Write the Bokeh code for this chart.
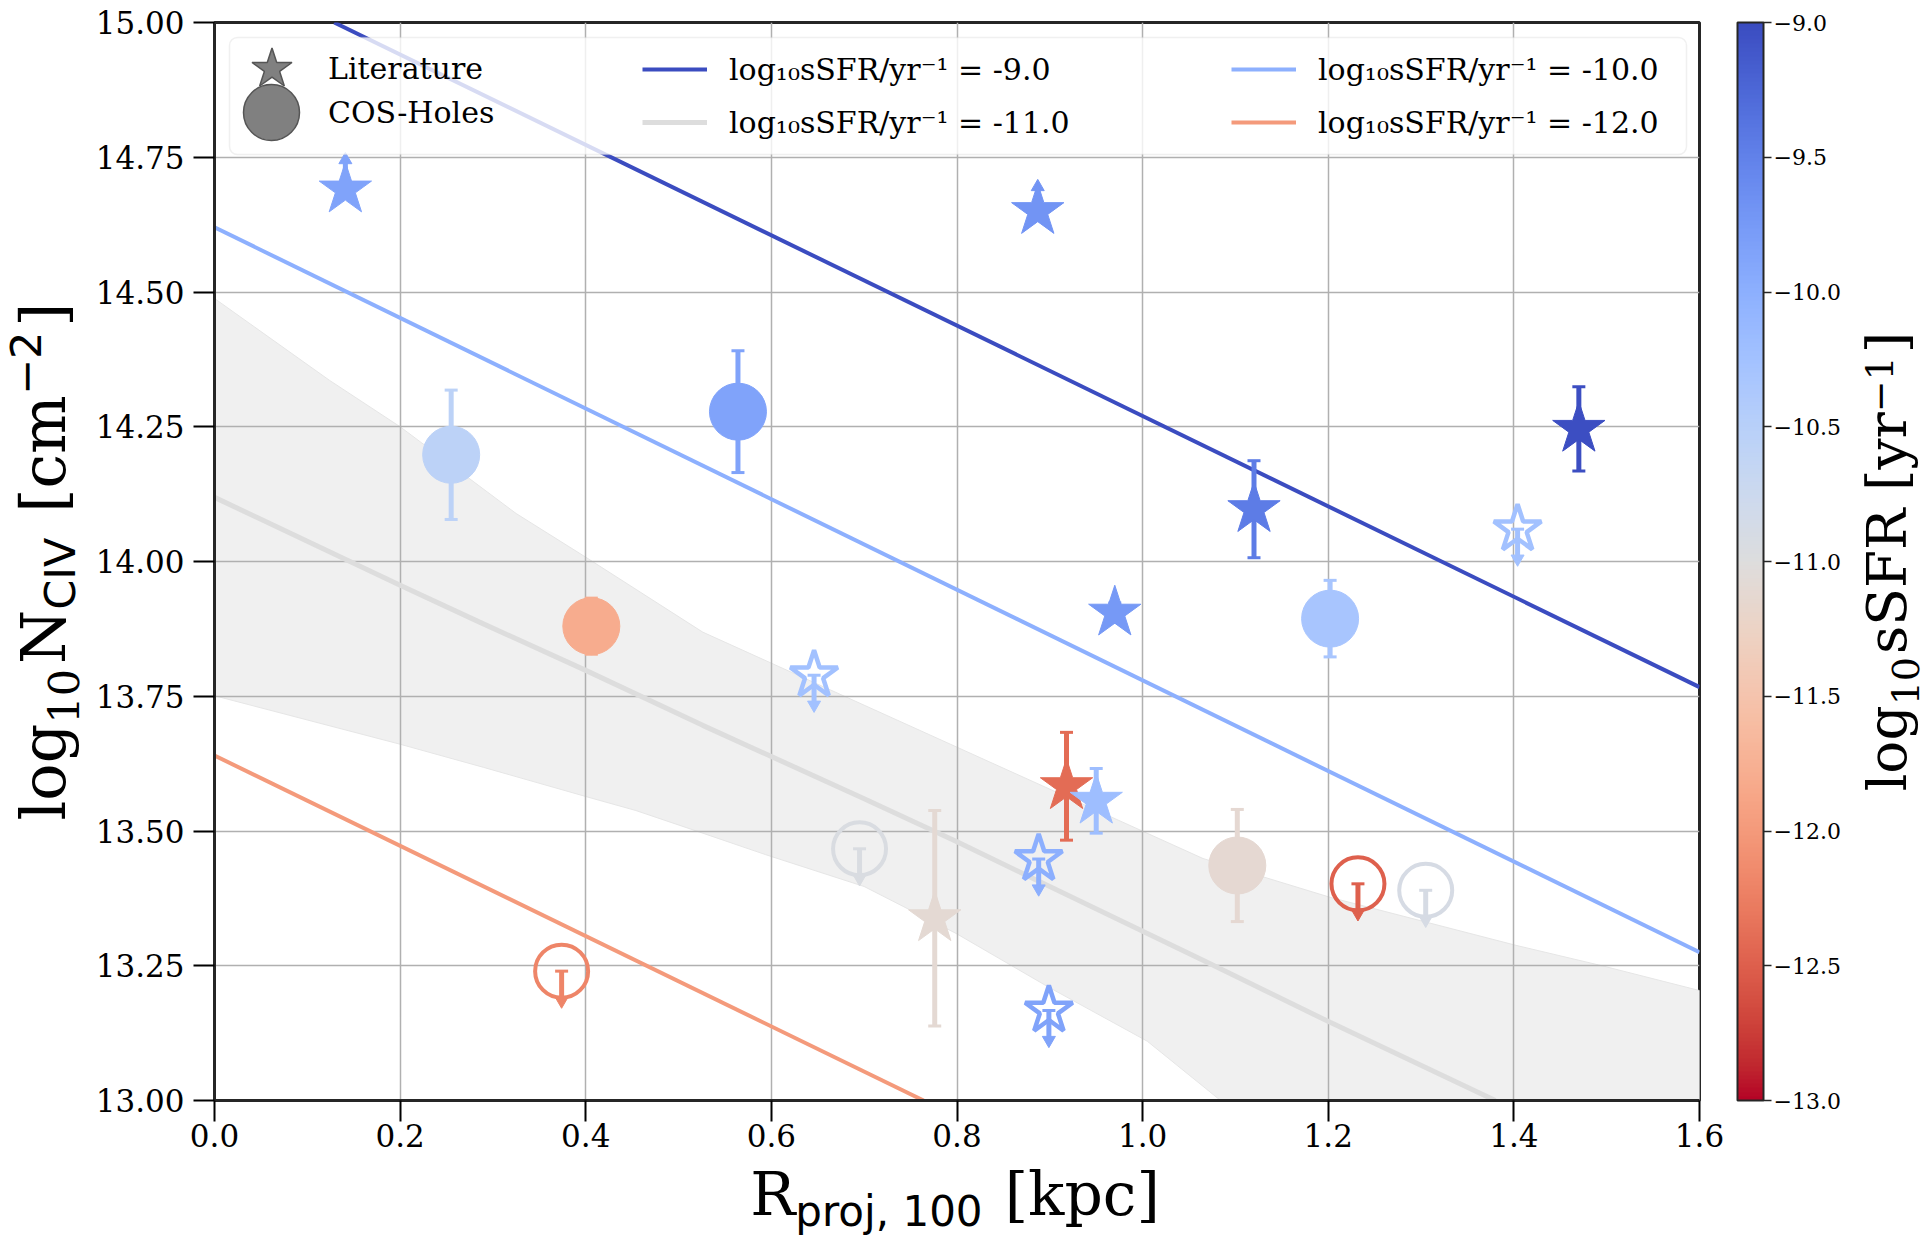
import glob
import numpy as np
from bokeh.plotting import figure
from bokeh.layouts import row, column
from bokeh.models import (ColumnDataSource, LinearColorMapper, ColorBar, FixedTicker,
                          NumeralTickFormatter, CustomJSTickFormatter, Legend, LegendItem,
                          Label, BoxAnnotation, Range1d)
from bokeh.transform import transform
from bokeh.embed import file_html
from bokeh.resources import INLINE

# ------------------------------------------------------------------ data
# Literature (stars)
lit_x = [0.141, 0.887, 1.470, 1.120, 0.970, 0.918, 0.950, 0.776, 0.646, 1.404, 0.888, 0.899]
lit_y = [14.690, 14.650, 14.246, 14.097, 13.905, 13.583, 13.556, 13.338, 13.789, 14.060, 13.448, 13.167]
lit_ssfr = [-9.85, -9.70, -9.03, -9.45, -9.75, -12.40, -10.20, -11.10, -10.25, -10.25, -10.00, -9.85]
lit_err = [0.055, 0.045, 0.078, 0.090, 0.018, 0.100, 0.060, 0.200, 0.055, 0.055, 0.055, 0.055]
lit_lim = ["lower", "lower", "none", "none", "none", "none", "none", "none",
           "upper", "upper", "upper", "upper"]

# COS-Holes (circles)
cos_x = [0.255, 0.564, 0.406, 1.202, 1.102, 0.374, 0.695, 1.232, 1.305]
cos_y = [14.198, 14.278, 13.880, 13.894, 13.436, 13.240, 13.467, 13.402, 13.390]
cos_ssfr = [-10.55, -9.85, -11.80, -10.30, -11.12, -12.20, -10.95, -12.50, -10.90]
cos_err = [0.120, 0.113, 0.052, 0.071, 0.104, 0.055, 0.055, 0.055, 0.055]
cos_lim = ["none", "none", "none", "none", "none", "upper", "upper", "upper", "upper"]

# model relations for fixed sSFR
model_ssfr = [-9.0, -10.0, -11.0, -12.0]
m9_x = [0.129, 1.6]
m9_y = [15.0, 13.767]
m10_x = [0.0, 1.6]
m10_y = [14.620, 13.275]
m11_x = [0.0, 0.2, 0.285, 0.4, 0.526, 0.7, 0.8, 1.065, 1.202, 1.38]
m11_y = [14.119, 13.956, 13.888, 13.798, 13.696, 13.560, 13.480, 13.260, 13.145, 13.0]
m12_x = [0.0, 0.764]
m12_y = [13.640, 13.0]

# scatter band around the -11 relation
band_up_x = [0.0, 0.124, 0.2, 0.325, 0.4, 0.526, 1.065, 1.202, 1.402, 1.495, 1.6]
band_up_y = [14.488, 14.336, 14.250, 14.089, 14.008, 13.869, 13.449, 13.377, 13.288, 13.250, 13.204]
band_lo_x = [0.0, 0.2, 0.29, 0.4, 0.454, 0.526, 0.594, 0.7, 0.799, 0.899, 1.005, 1.084, 1.6]
band_lo_y = [13.751, 13.661, 13.618, 13.564, 13.538, 13.496, 13.456, 13.397, 13.310, 13.210, 13.110, 13.0, 12.48]

x_ticks = [0.0, 0.2, 0.4, 0.6, 0.8, 1.0, 1.2, 1.4, 1.6]
y_ticks = [13.0, 13.25, 13.5, 13.75, 14.0, 14.25, 14.5, 14.75, 15.0]
cb_ticks = [-13.0, -12.5, -12.0, -11.5, -11.0, -10.5, -10.0, -9.5, -9.0]
SSFR_LOW, SSFR_HIGH = -13.0, -9.0

# ------------------------------------------------------------------ colormap (coolwarm, reversed)
COOLWARM = [(59, 76, 192), (68, 90, 204), (77, 104, 215), (87, 117, 225), (98, 130, 234),
            (108, 142, 241), (119, 154, 247), (130, 165, 251), (141, 176, 254), (152, 185, 255),
            (163, 194, 255), (174, 201, 253), (184, 208, 249), (194, 213, 244), (204, 217, 238),
            (213, 219, 230), (221, 221, 221), (229, 216, 209), (236, 211, 197), (241, 204, 185),
            (245, 196, 173), (247, 187, 160), (247, 177, 148), (247, 166, 135), (244, 154, 123),
            (241, 141, 111), (236, 127, 99), (229, 112, 88), (222, 96, 77), (213, 80, 66),
            (203, 62, 56), (192, 40, 47), (180, 4, 38)]
_cw = np.array(COOLWARM, dtype=float)
_kn = np.linspace(0, 1, len(COOLWARM))


def coolwarm(t):
    return "#%02x%02x%02x" % tuple(int(round(np.interp(t, _kn, _cw[:, k]))) for k in range(3))


palette = [coolwarm(1 - i / 255) for i in range(256)]
mapper = LinearColorMapper(palette=palette, low=SSFR_LOW, high=SSFR_HIGH)


def ssfr_color(v):
    return coolwarm(1 - (v - SSFR_LOW) / (SSFR_HIGH - SSFR_LOW))


# ------------------------------------------------------------------ text metrics
try:
    from PIL import ImageFont
except Exception:
    ImageFont = None
_FONT_FILES = {"DejaVu Serif": "DejaVuSerif.ttf", "DejaVu Sans": "DejaVuSans.ttf"}
_fcache = {}


def _font(fam, size):
    key = (fam, size)
    if key not in _fcache:
        f = None
        if ImageFont is not None:
            hits = (glob.glob("/usr/share/fonts/**/" + _FONT_FILES[fam], recursive=True) +
                    glob.glob("/usr/local/share/fonts/**/" + _FONT_FILES[fam], recursive=True))
            if hits:
                try:
                    f = ImageFont.truetype(hits[0], size)
                except Exception:
                    f = None
        _fcache[key] = f
    return _fcache[key]


def tw(text, fam, size):
    f = _font(fam, size)
    if f is not None:
        return f.getlength(text)
    return 0.6 * size * len(text)


BASE_K = 0.367   # anchor offset of the label baseline, as a fraction of the font size


def add_rich(fig, pieces, ax, ay, rotated=False):
    """pieces: (text, family, size_px, baseline shift, extra gap after)"""
    total = sum(tw(t, fam, s) + g for t, fam, s, d, g in pieces)
    pos = -total / 2
    for t, fam, s, d, g in pieces:
        body = t.lstrip(" ")
        lead = len(t) - len(body)
        if lead:
            pos += tw(" " * lead, fam, s)
        up = d + BASE_K * s
        if rotated:
            x, y = ax - up, ay + pos
        else:
            x, y = ax + pos, ay + up
        fig.add_layout(Label(x=x, y=y, x_units="screen", y_units="screen", text=body,
                             text_font=fam, text_font_size=f"{s}px", text_color="black",
                             text_align="left", text_baseline="alphabetic",
                             angle=(np.pi / 2 if rotated else 0.0)))
        pos += tw(body, fam, s) + g


def blank_fig(w, h, top=0, bottom=0):
    return figure(width=w, height=h, x_range=Range1d(0, 1), y_range=Range1d(0, 1),
                  x_axis_type=None, y_axis_type=None, toolbar_location=None,
                  output_backend="svg", min_border_left=0, min_border_right=0,
                  min_border_top=top, min_border_bottom=bottom, outline_line_color=None,
                  background_fill_color="white", border_fill_color="white")


# ------------------------------------------------------------------ geometry
FW, FH = 1485, 1078
TOP, BOT = 22, 60
YLAB_W, MAIN_L = 92, 120
MAIN_R, CBLAB_W = 152, 79
MAIN_H = TOP + FH + BOT
TOTAL_W = YLAB_W + MAIN_L + FW + MAIN_R + CBLAB_W
XLAB_H = 77
XLAB_BASE = 1216.0      # canvas y of the x-title baseline
CBLAB_BASE = 1905.0     # canvas x of the colour-bar title baseline

# ------------------------------------------------------------------ main figure
p = figure(frame_width=FW, frame_height=FH, x_range=Range1d(0, 1.6), y_range=Range1d(13, 15),
           output_backend="svg", toolbar_location=None,
           min_border_left=MAIN_L, min_border_right=MAIN_R, min_border_top=TOP,
           min_border_bottom=BOT,
           background_fill_color="white", border_fill_color="white",
           outline_line_color="#262626", outline_line_width=3)

p.xaxis.ticker = FixedTicker(ticks=x_ticks)
p.yaxis.ticker = FixedTicker(ticks=y_ticks)
p.xaxis.formatter = NumeralTickFormatter(format="0.0")
p.yaxis.formatter = NumeralTickFormatter(format="0.00")
for ax in (p.xaxis[0], p.yaxis[0]):
    ax.axis_label = None
    ax.major_label_text_font = "DejaVu Serif"
    ax.major_label_text_font_size = "31px"
    ax.major_label_text_color = "black"
    ax.major_tick_out = 21
    ax.major_tick_in = 0
    ax.major_tick_line_width = 2
    ax.major_tick_line_color = "black"
    ax.minor_tick_line_color = None
    ax.axis_line_color = "#262626"
    ax.axis_line_width = 3
p.xaxis.major_label_standoff = 2
p.yaxis.major_label_standoff = 9
p.grid.grid_line_color = "#b0b0b0"
p.grid.grid_line_width = 1.5

# band
band_xs = list(band_up_x) + list(band_lo_x[::-1])
band_ys = list(band_up_y) + list(band_lo_y[::-1])
p.patch(band_xs, band_ys, fill_color="#f0f0f0", line_color="#e6e6e6", line_width=1, level="image")

# model lines
r9 = p.line(m9_x, m9_y, line_color=ssfr_color(model_ssfr[0]), line_width=4)
r10 = p.line(m10_x, m10_y, line_color=ssfr_color(model_ssfr[1]), line_width=4)
r11 = p.line(m11_x, m11_y, line_color=ssfr_color(model_ssfr[2]), line_width=5)
r12 = p.line(m12_x, m12_y, line_color=ssfr_color(model_ssfr[3]), line_width=4)


# error bars / limits
def build(xs, ys, ss, es, lims):
    seg = dict(x=[], y0=[], y1=[], ssfr=[])
    caps = dict(x=[], y=[], ssfr=[])
    up = dict(x=[], y=[], ssfr=[])
    dn = dict(x=[], y=[], ssfr=[])
    for x, y, s, e, l in zip(xs, ys, ss, es, lims):
        if l == "none":
            seg["x"].append(x); seg["y0"].append(y - e); seg["y1"].append(y + e); seg["ssfr"].append(s)
            for yy in (y - e, y + e):
                caps["x"].append(x); caps["y"].append(yy); caps["ssfr"].append(s)
        elif l == "upper":
            seg["x"].append(x); seg["y0"].append(y - e); seg["y1"].append(y); seg["ssfr"].append(s)
            caps["x"].append(x); caps["y"].append(y); caps["ssfr"].append(s)
            dn["x"].append(x); dn["y"].append(y - e); dn["ssfr"].append(s)
        else:
            seg["x"].append(x); seg["y0"].append(y); seg["y1"].append(y + e); seg["ssfr"].append(s)
            caps["x"].append(x); caps["y"].append(y); caps["ssfr"].append(s)
            up["x"].append(x); up["y"].append(y + e); up["ssfr"].append(s)
    return seg, caps, up, dn


cmap_t = transform("ssfr", mapper)
for xs, ys, ss, es, lims in ((lit_x, lit_y, lit_ssfr, lit_err, lit_lim),
                             (cos_x, cos_y, cos_ssfr, cos_err, cos_lim)):
    seg, caps, up, dn = build(xs, ys, ss, es, lims)
    p.segment(x0="x", y0="y0", x1="x", y1="y1", source=ColumnDataSource(seg),
              line_color=cmap_t, line_width=5)
    p.scatter(x="x", y="y", source=ColumnDataSource(caps), marker="dash", size=13,
              line_color=cmap_t, line_width=3)
    p.scatter(x="x", y="y", source=ColumnDataSource(up), marker="triangle", size=13,
              fill_color=cmap_t, line_color=cmap_t, line_width=1)
    p.scatter(x="x", y="y", source=ColumnDataSource(dn), marker="inverted_triangle", size=13,
              fill_color=cmap_t, line_color=cmap_t, line_width=1)


def subset(xs, ys, ss, lims, keep):
    d = dict(x=[], y=[], ssfr=[])
    for x, y, s, l in zip(xs, ys, ss, lims):
        if keep(l):
            d["x"].append(x); d["y"].append(y); d["ssfr"].append(s)
    return ColumnDataSource(d)


p.scatter(x="x", y="y", source=subset(lit_x, lit_y, lit_ssfr, lit_lim, lambda l: l != "upper"),
          marker="star", size=55, fill_color=cmap_t, line_color=cmap_t, line_width=1)
p.scatter(x="x", y="y", source=subset(lit_x, lit_y, lit_ssfr, lit_lim, lambda l: l == "upper"),
          marker="star", size=50, fill_color=None, line_color=cmap_t, line_width=4.5)
p.scatter(x="x", y="y", source=subset(cos_x, cos_y, cos_ssfr, cos_lim, lambda l: l != "upper"),
          marker="circle", size=57, fill_color=cmap_t, line_color=cmap_t, line_width=1)
p.scatter(x="x", y="y", source=subset(cos_x, cos_y, cos_ssfr, cos_lim, lambda l: l == "upper"),
          marker="circle", size=53, fill_color=None, line_color=cmap_t, line_width=4)

# ------------------------------------------------------------------ legend
NAN = [float("nan")]
leg_star = p.scatter(NAN, NAN, marker="star", size=42, fill_color="#808080",
                     line_color="#555555", line_width=1.5)
leg_circ = p.scatter(NAN, NAN, marker="circle", size=56, fill_color="#808080",
                     line_color="#555555", line_width=1.5)
leg_none = p.scatter(NAN, NAN, marker="circle", size=1, fill_alpha=0, line_alpha=0)

p.add_layout(BoxAnnotation(left=15, right=1472, bottom=946, top=1063,
                           left_units="screen", right_units="screen",
                           top_units="screen", bottom_units="screen",
                           fill_color="white", fill_alpha=0.8, line_color="#cccccc",
                           line_width=1.5, border_radius=8, level="annotation"))

common = dict(padding=0, margin=0, border_line_alpha=0, background_fill_alpha=0,
              label_text_font="DejaVu Serif", label_text_font_size="30px",
              label_text_color="black")
# marker symbols of the first column
p.add_layout(Legend(items=[LegendItem(label=" ", renderers=[leg_star])],
                    location=(5, 979), glyph_width=105, glyph_height=105,
                    label_standoff=0, spacing=0, label_width=1, **common))
p.add_layout(Legend(items=[LegendItem(label=" ", renderers=[leg_circ])],
                    location=(-13, 918), glyph_width=140, glyph_height=140,
                    label_standoff=0, spacing=0, label_width=1, **common))
# texts of the first column
p.add_layout(Legend(items=[LegendItem(label="Literature", renderers=[leg_none]),
                           LegendItem(label="COS-Holes", renderers=[leg_none])],
                    location=(113, 966), glyph_width=1, glyph_height=44, label_height=44,
                    label_standoff=0, spacing=0, **common))


def lab(v):
    return f"log₁₀sSFR/yr⁻¹ = {v:.1f}"


p.add_layout(Legend(items=[LegendItem(label=lab(model_ssfr[0]), renderers=[r9]),
                           LegendItem(label=lab(model_ssfr[2]), renderers=[r11])],
                    location=(428, 958), glyph_width=65, glyph_height=40, label_height=40,
                    spacing=13, label_standoff=22, **common))
p.add_layout(Legend(items=[LegendItem(label=lab(model_ssfr[1]), renderers=[r10]),
                           LegendItem(label=lab(model_ssfr[3]), renderers=[r12])],
                    location=(1017, 958), glyph_width=65, glyph_height=40, label_height=40,
                    spacing=13, label_standoff=22, **common))

# ------------------------------------------------------------------ colorbar
cb = ColorBar(color_mapper=mapper, ticker=FixedTicker(ticks=cb_ticks),
              formatter=CustomJSTickFormatter(code="return tick.toFixed(1).replace('-', '\u2212');"),
              major_label_text_font="DejaVu Serif", major_label_text_font_size="22px",
              major_label_text_color="black", label_standoff=2,
              major_tick_out=8, major_tick_in=0, major_tick_line_color="#262626",
              major_tick_line_width=1.5, minor_tick_line_color=None,
              bar_line_color="#262626", bar_line_width=2,
              width=26, height=FH, padding=0, margin=0, location=(1523, 0),
              background_fill_alpha=0, border_line_color=None)
p.add_layout(cb)

# ------------------------------------------------------------------ axis titles
SERIF, SANS = "DejaVu Serif", "DejaVu Sans"

ylab = blank_fig(YLAB_W, MAIN_H, TOP, BOT)
add_rich(ylab, [("log", SERIF, 62, 0, 0), ("10", SERIF, 43, -13, 5), ("N", SERIF, 62, 0, 0),
                ("CIV", SANS, 43, -9, 5), (" [cm", SERIF, 62, 0, 0), ("−2", SANS, 43, 25, 5),
                ("]", SERIF, 62, 0, 0)], 66, FH / 2, rotated=True)

cbl_x0 = YLAB_W + MAIN_L + FW + MAIN_R
cblab = blank_fig(CBLAB_W, MAIN_H, TOP, BOT)
add_rich(cblab, [("log", SERIF, 55, 0, 0), ("10", SERIF, 38, -12, 3),
                 ("sSFR [yr", SERIF, 55, 0, 0), ("−1", SERIF, 38, 14, 3),
                 ("]", SERIF, 55, 0, 0)], CBLAB_BASE - cbl_x0, FH / 2, rotated=True)

xlab = blank_fig(TOTAL_W, XLAB_H)
add_rich(xlab, [("R", SERIF, 60, 0, 0), ("proj, 100", SANS, 42, -10, 3),
                (" [kpc]", SERIF, 60, 0, 0)],
         YLAB_W + MAIN_L + FW / 2, XLAB_H - (XLAB_BASE - MAIN_H))

layout = column(row(ylab, p, cblab), xlab)

open("out.html", "w").write(file_html(layout, INLINE))
